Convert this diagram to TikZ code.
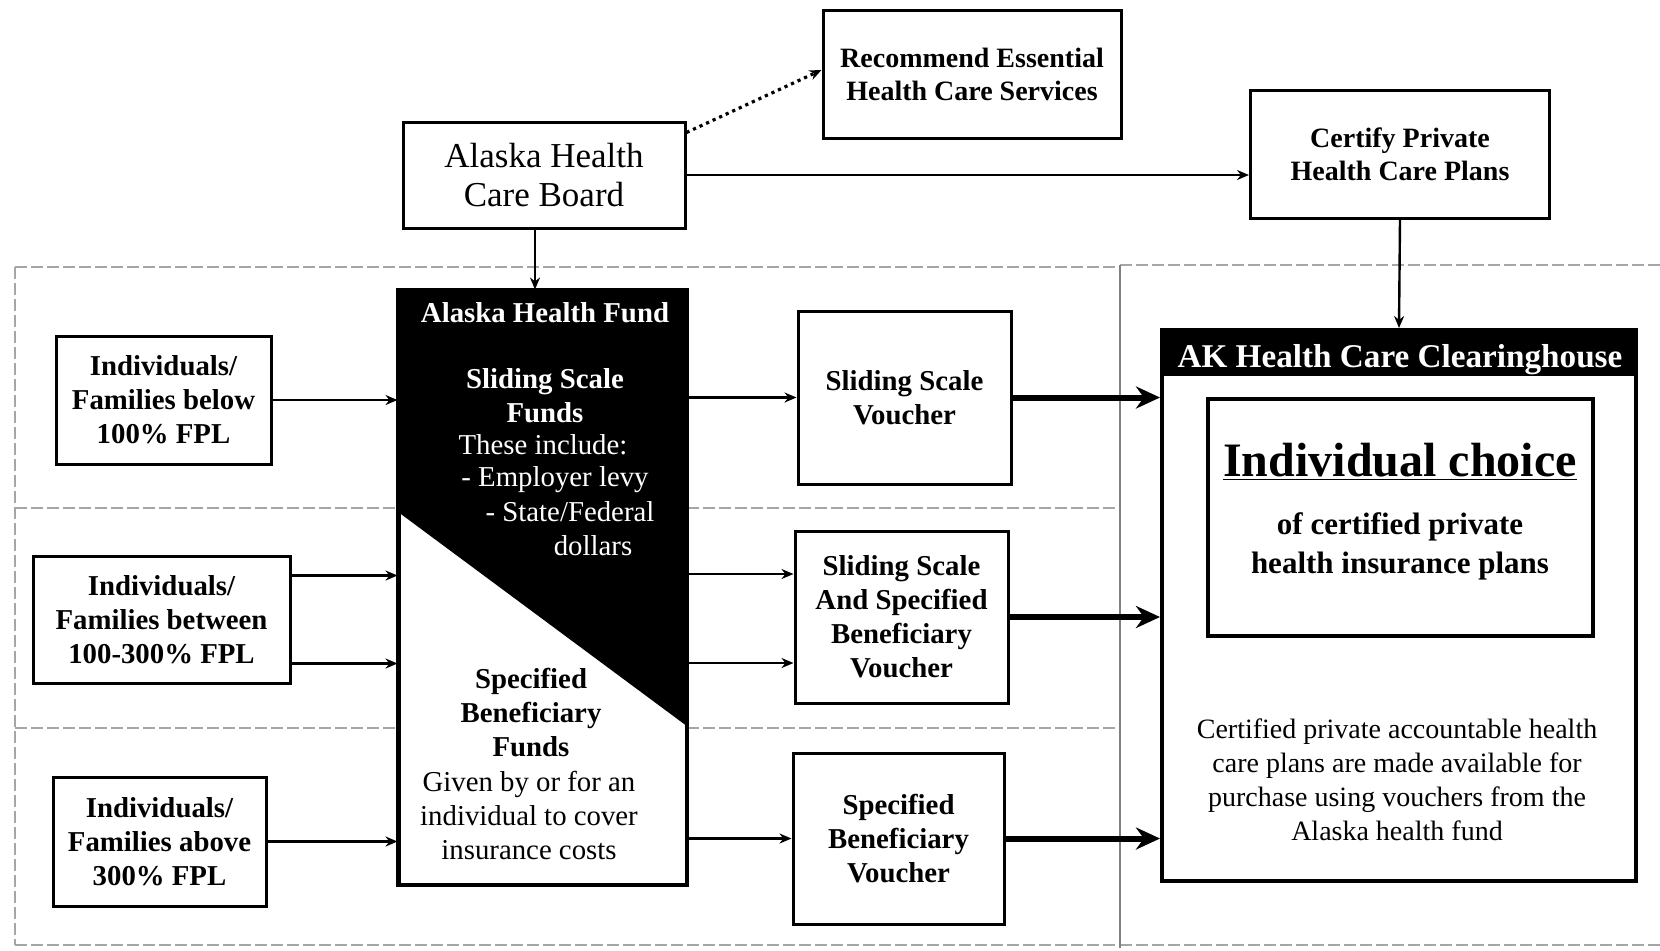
\documentclass[tikz,border=0pt]{standalone}
\usepackage{fontspec}
\setmainfont{Liberation Serif}
\usetikzlibrary{arrows.meta,calc}
\begin{document}
\begin{tikzpicture}[x=0.5pt,y=-0.5pt,
  box/.style={draw, line width=1.5pt, fill=white, align=center, inner sep=0pt},
  bf/.style={font=\fontsize{14.4}{17}\selectfont\bfseries},
  bfs/.style={font=\fontsize{14}{16.5}\selectfont\bfseries},
  rmw/.style={font=\fontsize{14.4}{17}\selectfont, text=white},
  arr/.style={line width=1.2pt, -{Stealth[length=6pt,width=5pt]}},
  bigarr/.style={line width=3pt, -{Stealth[length=12pt,width=11pt]}},
  reg/.style={black!35, dash pattern=on 6pt off 2pt, line width=1pt}]
\useasboundingbox (0,0) rectangle (1660,950);

% background regions
\draw[reg] (15,267) -- (1120,267);
\draw[reg] (15,508) -- (1120,508);
\draw[reg] (15,728) -- (1120,728);
\draw[reg] (15,945) -- (1120,945);
\draw[reg] (15,267) -- (15,945);
\draw[reg] (1120,265) -- (1660,265);
\draw[reg] (1120,945) -- (1660,945);
\draw[black!50, line width=1.3pt] (1120,265) -- (1120,948);

% top nodes
\node[box, bfs, minimum width=149pt, minimum height=64pt] (rec) at (972,74) {Recommend Essential\\Health Care Services};
\node[box, bfs, minimum width=149.5pt, minimum height=64pt] (cert) at (1400,154) {Certify Private\\Health Care Plans};
\node[box, font=\fontsize{17.5}{19.5}\selectfont, minimum width=141pt, minimum height=53pt] (board) at (544,175) {Alaska Health\\Care Board};

% fund
\node[box, minimum width=143.5pt, minimum height=296.5pt] (fund) at (542.5,587.5) {};
\fill[black] (fund.north west) -- (fund.north east) -- ($(fund.north east)+(0,437)$) -- ($(fund.north west)+(0,222)$) -- cycle;
\draw[line width=1.5pt] (fund.south west) rectangle (fund.north east);
\node[bf, text=white] (f1) at (545,313) {Alaska Health Fund};
\node[bf, text=white, align=center] (f2) at (545,396) {Sliding Scale\\Funds};
\node[rmw] (f3) at (543,445) {These include:};
\node[rmw] (f4) at (555,480) {- Employer levy};
\node[rmw] (f5) at (570,512) {- State/Federal};
\node[rmw] (f6) at (593,546) {dollars};
\node[bf, align=center] (f7) at (531,713) {Specified\\Beneficiary\\Funds};
\node[font=\fontsize{14.4}{17}\selectfont, align=center] (f8) at (529,815) {Given by or for an\\individual to cover\\insurance costs};

% individuals
\node[box, bf, minimum width=107.5pt, minimum height=64pt] (ind1) at (163.5,400) {Individuals/\\Families below\\100\% FPL};
\node[box, bf, minimum width=128.5pt, minimum height=63.5pt] (ind2) at (161.5,619.5) {Individuals/\\Families between\\100-300\% FPL};
\node[box, bf, minimum width=106.5pt, minimum height=64.5pt] (ind3) at (159.5,841.5) {Individuals/\\Families above\\300\% FPL};

% vouchers
\node[box, bf, minimum width=106.5pt, minimum height=86.5pt] (v1) at (904.5,397.5) {Sliding Scale\\Voucher};
\node[box, bf, minimum width=106.5pt, minimum height=86pt] (v2) at (901.5,617) {Sliding Scale\\And Specified\\Beneficiary\\Voucher};
\node[box, bf, minimum width=105.5pt, minimum height=85.5pt] (v3) at (898.5,838.5) {Specified\\Beneficiary\\Voucher};

% clearinghouse
\node[draw, fill=white, line width=2pt, minimum width=237pt, minimum height=275.5pt] (ch) at (1399,605.5) {};
\node[fill=black, anchor=north, minimum width=237pt, minimum height=24pt, inner sep=0pt] (chh) at (ch.north) {};
\node[text=white, font=\fontsize{16.6}{19}\selectfont\bfseries] (cht1) at (1400,360) {AK Health Care Clearinghouse};
\node[draw, line width=2pt, minimum width=192.5pt, minimum height=118.5pt] (ic) at (1400.5,517.5) {};
\node[font=\fontsize{24}{28}\selectfont\bfseries] (ict) at (1400,462) {\underline{Individual choice}};
\node[font=\fontsize{15.5}{19.5}\selectfont\bfseries, align=center] (ics) at (1400,546) {of certified private\\health insurance plans};
\node[font=\fontsize{14}{17}\selectfont, align=center] (cht) at (1397,780) {Certified private accountable health\\care plans are made available for\\purchase using vouchers from the\\Alaska health fund};

% connectors
\coordinate (bs) at ([xshift=-4.5pt]board.south);
\draw[arr] (bs) -- (bs |- fund.north);
\draw[arr] (board.east) -- (board.east -| cert.west);
\draw[line width=1.6pt, dotted, -{Stealth[length=6pt,width=5pt]}] ([yshift=-6pt]board.north east) -- ([yshift=2pt]rec.west);
\draw[arr] (cert.south) -- (ch.north);

\coordinate (i2a) at ([yshift=22pt]ind2.east);
\coordinate (i2b) at ([yshift=-22pt]ind2.east);
\draw[arr] (ind1.east) -- (ind1.east -| fund.west);
\draw[arr] (i2a) -- (i2a -| fund.west);
\draw[arr] (i2b) -- (i2b -| fund.west);
\draw[arr] (ind3.east) -- (ind3.east -| fund.west);

\coordinate (v2a) at ([yshift=21.5pt]v2.west);
\coordinate (v2b) at ([yshift=-23pt]v2.west);
\draw[arr] (v1.west -| fund.east) -- (v1.west);
\draw[arr] (v2a -| fund.east) -- (v2a);
\draw[arr] (v2b -| fund.east) -- (v2b);
\draw[arr] (v3.west -| fund.east) -- (v3.west);

\draw[bigarr] (v1.east) -- (v1.east -| ch.west);
\draw[bigarr] (v2.east) -- (v2.east -| ch.west);
\draw[bigarr] (v3.east) -- (v3.east -| ch.west);
\end{tikzpicture}
\end{document}
